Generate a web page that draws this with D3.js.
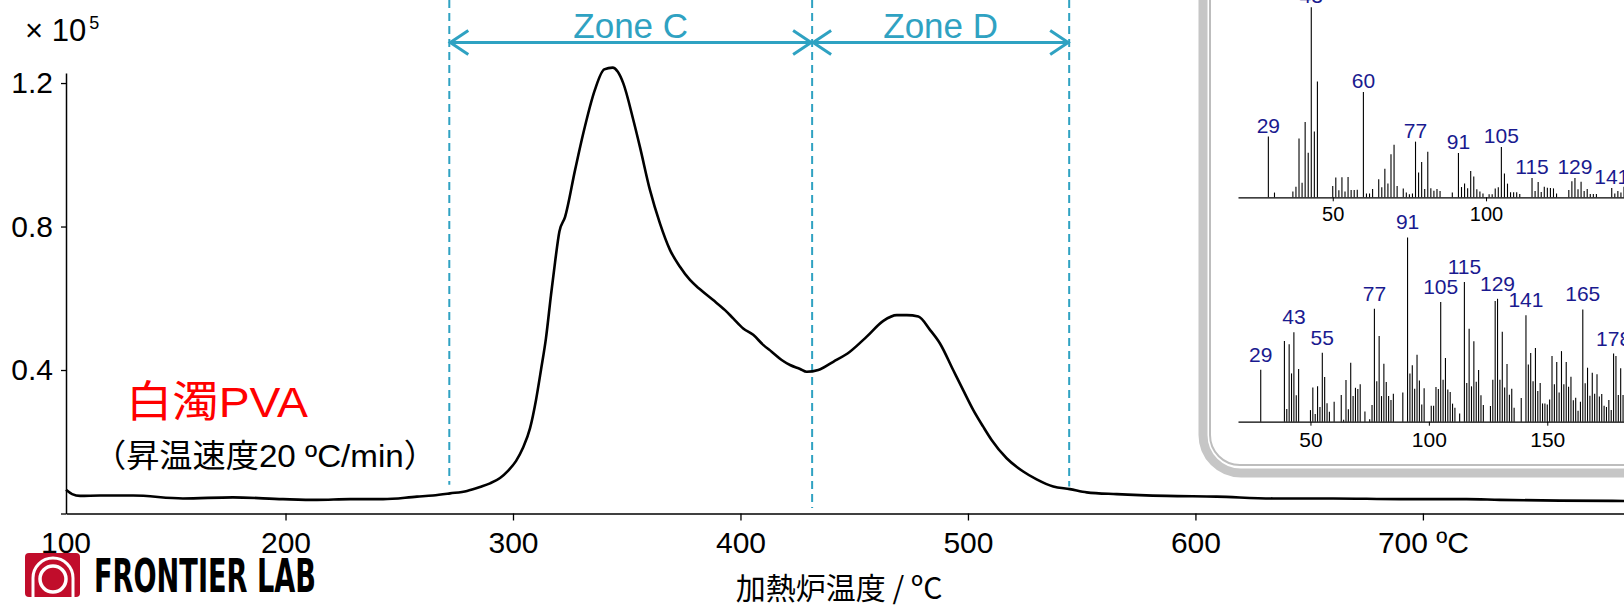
<!DOCTYPE html>
<html>
<head>
<meta charset="utf-8">
<title>白濁PVA</title>
<script src="https://d3js.org/d3.v7.min.js"></script>
<style>
  body { margin: 0; background: #fff; }
  svg text { font-family: "Liberation Sans", Arial, "Noto Sans CJK JP", sans-serif; }
  .axis .domain { stroke: #000; stroke-width: 1.5; }
  .axis line { stroke: #000; stroke-width: 1.3; }
  .axis text { font-size: 30px; fill: #000; font-family: "Liberation Sans", Arial, sans-serif; }
  .ms .domain { stroke: #000; stroke-width: 1.2; }
  .ms line { stroke: #000; stroke-width: 1; }
  .ms text { font-size: 20px; fill: #000; }
</style>
</head>
<body>
<svg id="chart" width="1624" height="606"></svg>
<script>
// thermogram: furnace temperature (degC) vs intensity (x10^5)
const temps = [103.5,106.2,109.7,118.5,133,154.9,176.9,198.9,213.8,228.4,242.9,257.8,264.8,272.3,279.8,285.5,289.9,294.3,297.8,301.3,304.4,307.5,310.1,312.3,314.5,316.7,318.5,320.4,322.9,327.3,330.9,336,340.1,343.8,346,348.5,352.9,355.8,360.2,364.6,369,373.4,377.8,382.2,388,393.2,396.8,401.2,405.6,410,413.7,418.1,421.8,426.2,429.1,434.2,440.8,448.1,455.5,462.8,468.7,473.1,478.2,483.3,487.7,493.5,497.9,502.3,506.7,510.4,517,524.3,530.2,537.5,544.8,552.2,565.4,587.3,609.3,634.2,660.5,689.9,719.2,733.8,760.2,788.4];
const intensity = [0.066,0.054,0.049,0.050,0.050,0.042,0.045,0.040,0.038,0.040,0.040,0.047,0.050,0.056,0.063,0.074,0.084,0.099,0.119,0.146,0.183,0.238,0.316,0.400,0.489,0.609,0.701,0.786,0.827,0.958,1.060,1.181,1.238,1.243,1.232,1.199,1.097,1.022,0.902,0.809,0.735,0.688,0.651,0.625,0.595,0.567,0.544,0.516,0.498,0.470,0.451,0.428,0.414,0.403,0.395,0.400,0.423,0.451,0.493,0.537,0.553,0.553,0.549,0.512,0.474,0.400,0.344,0.289,0.242,0.205,0.154,0.117,0.095,0.075,0.068,0.059,0.054,0.049,0.047,0.042,0.042,0.040,0.040,0.038,0.036,0.035];

const xTickValues = [200, 300, 400, 500, 600, 700];
const xTickLabels = ["200", "300", "400", "500", "600", "700 ºC"];
const xStartLabel = "100";
const yTickValues = [0, 0.4, 0.8, 1.2];
const yTickLabels = ["", "0.4", "0.8", "1.2"];

// zones
const zoneBounds = [272, 431.5, 544.5];
const zoneLineEnds = [0.08, 0.015, 0.075];
const zoneNames = ["Zone C", "Zone D"];

// inset mass spectra (m/z, relative abundance %)
const spec1Mz = [29,31,37,38,39,40,41,42,43,44,45,50,51,52,53,54,55,56,57,58,60,61,62,63,65,66,67,68,69,70,71,73,74,75,76,77,78,79,80,81,82,83,84,85,89,91,92,93,94,95,96,97,98,99,101,102,103,104,105,106,107,108,109,110,111,115,116,117,118,119,120,121,122,123,127,128,129,130,131,132,133,134,135,136,141,142,143,144,145];
const spec1Abund = [32,2.5,3,5.6,31,7.7,39.6,23.5,100,34.6,60.9,6,10.4,3.7,10.5,3,10.7,3.9,3.9,4,55.4,2,2,4.4,9.5,5.3,15,7.2,22.6,27.7,6,4.6,2.5,1.6,2,29.3,13,18.6,4.4,24,4.7,3.5,4.4,3.3,2.5,23.3,5.4,7.2,4.7,13.9,10.9,4.2,3,2,1.6,1.6,4.6,5.3,26.5,12.5,7.2,2.6,2.6,2.6,1.8,10.2,3.3,8,2.8,5.6,5,4.9,4.7,2,3.9,8.4,10.2,4.2,8.2,3.3,4.4,1.8,1.8,1.8,4.9,2,3.3,2.5,5.6];
const spec1Labels = [29, 43, 60, 77, 91, 105, 115, 129, 141];

const spec2Mz = [29,39,40,41,42,43,44,45,50,51,52,53,54,55,56,57,58,60,63,64,65,66,67,68,69,70,71,73,75,76,77,78,79,80,81,82,83,84,85,89,91,92,93,94,95,96,97,98,101,102,103,104,105,106,107,108,109,110,111,113,115,116,117,118,119,120,121,122,123,126,127,128,129,130,131,132,133,134,135,136,139,141,142,143,144,145,146,147,148,149,150,151,152,153,154,155,156,157,158,159,160,161,162,163,164,165,166,167,168,169,170,171,172,173,174,175,176,177,178,179,180,181,182];
const spec2Abund = [28.2,43.8,6.9,42,26.2,48.5,14.3,28.6,6.3,18.6,4.2,19.3,8,37.4,24.2,10,5.4,10.8,14.5,1,22.6,6.7,32,13.9,18.4,17.7,20.3,5.6,1.3,9,61.3,21.9,46.5,13.9,31.5,21.5,13.9,11.8,15.2,15.9,100,26.2,30.6,17.9,36.3,22.4,9.4,18.1,8.7,8.7,18.8,17.7,64.9,22.8,34.5,17.5,16.1,9.8,7.6,4.5,75.8,21,50.5,19.2,43.6,21.7,28,14.3,9,8.5,22.8,65.5,66.7,22.8,48.8,18.6,31.3,14.6,17.9,7.6,12.8,57.7,31.1,37.3,21.9,40,16.6,21,9.9,9.9,9.4,12.1,35.6,20.3,32.4,15.9,38.3,20.3,32.4,19,24.4,11.6,13,6,10.8,60.9,20.8,29.3,14.1,26.6,15.2,25.7,13.7,15,8.7,8,11.8,6.3,37,35.6,14.5,29,14.5];
const spec2Labels = [29, 43, 55, 77, 91, 105, 115, 129, 141, 165, 178];

const svg = d3.select('svg#chart');
const width = +svg.attr('width');
const height = +svg.attr('height');
const margins = {top: 73, right: 0, bottom: 92.5, left: 66};

const teal = '#2fa2c2';
const navy = '#1a1a8f';

const x = d3.scaleLinear().domain([temps[0], temps[temps.length - 1]])
            .range([margins.left, width - margins.right]);
const y = d3.scaleLinear().domain([0, 1.228])
            .range([height - margins.bottom, margins.top]);

// axes
svg.append('g').attr('class', 'x axis')
  .attr('transform', `translate(0,${height - margins.bottom})`)
  .call(d3.axisBottom(x).tickValues(xTickValues)
          .tickFormat((d, i) => xTickLabels[i])
          .tickSizeInner(7).tickSizeOuter(0).tickPadding(11));

svg.append('text')
  .attr('x', x(temps[0])).attr('y', height - margins.bottom + 18)
  .attr('dy', '0.71em').attr('text-anchor', 'middle')
  .style('font-size', '30px').text(xStartLabel);

svg.append('g').attr('class', 'y axis')
  .attr('transform', `translate(${margins.left},0)`)
  .call(d3.axisLeft(y).tickValues(yTickValues)
          .tickFormat((d, i) => yTickLabels[i])
          .tickSizeInner(5).tickSizeOuter(0).tickPadding(8));

// x10^5
const mult = svg.append('text').attr('x', 25).attr('y', 41).style('font-size', '31px');
mult.append('tspan').text('× 10');
mult.append('tspan').attr('dx', 3).attr('dy', -12).style('font-size', '18px').text('5');

// x label
svg.append('text')
  .attr('x', 839).attr('y', 599).attr('text-anchor', 'middle')
  .style('font-size', '30px')
  .style('font-family', '"Noto Sans CJK JP", "Liberation Sans", sans-serif')
  .text('加熱炉温度 / ºC');

// zone markers
zoneBounds.forEach((t, i) => {
  svg.append('line')
    .attr('x1', x(t)).attr('x2', x(t))
    .attr('y1', 0).attr('y2', y(zoneLineEnds[i]))
    .attr('stroke', teal).attr('stroke-width', 2)
    .attr('stroke-dasharray', '8,5');
});

const arrowY = 42.5;
zoneNames.forEach((name, i) => {
  const x0 = x(zoneBounds[i]), x1 = x(zoneBounds[i + 1]);
  const g = svg.append('g').attr('fill', 'none').attr('stroke', teal)
               .attr('stroke-width', 3);
  g.append('line').attr('x1', x0).attr('x2', x1).attr('y1', arrowY).attr('y2', arrowY);
  g.append('path').attr('d', `M${x0 + 19},${arrowY - 12}L${x0 + 1},${arrowY}L${x0 + 19},${arrowY + 12}`);
  g.append('path').attr('d', `M${x1 - 19},${arrowY - 12}L${x1 - 1},${arrowY}L${x1 - 19},${arrowY + 12}`);
  svg.append('text')
    .attr('x', (x0 + x1) / 2).attr('y', 38).attr('text-anchor', 'middle')
    .attr('fill', teal).style('font-size', '35px').text(name);
});

// curve
const line = d3.line().x((d, i) => x(temps[i])).y(d => y(d)).curve(d3.curveMonotoneX);
svg.append('path')
  .attr('d', line(intensity))
  .attr('fill', 'none').attr('stroke', '#000').attr('stroke-width', 2.6)
  .attr('stroke-linejoin', 'round');

// sample annotation
svg.append('text')
  .attr('x', 126).attr('y', 417).attr('fill', '#ff0000')
  .style('font-size', '43px')
  .attr('textLength', 182).attr('lengthAdjust', 'spacingAndGlyphs')
  .text('白濁PVA');
svg.append('text')
  .attr('x', 93).attr('y', 467)
  .style('font-size', '32px')
  .attr('textLength', 344).attr('lengthAdjust', 'spacingAndGlyphs')
  .text('（昇温速度20 ºC/min）');

// inset frame
svg.append('rect')
  .attr('x', 1203).attr('y', -80).attr('width', 600).attr('height', 553)
  .attr('rx', 38).attr('fill', '#fff').attr('stroke', '#c6c6c6').attr('stroke-width', 9);
svg.append('rect')
  .attr('x', 1210).attr('y', -80).attr('width', 600).attr('height', 545)
  .attr('rx', 30).attr('fill', 'none').attr('stroke', '#bdbdbd').attr('stroke-width', 2);

function drawSpectrum(mz, abund, labels, xr, baseY, topY, ticks, fontSize, labelGap) {
  const sx = d3.scaleLinear().domain(xr).range([1238, width]);
  const sy = d3.scaleLinear().domain([0, 100]).range([baseY, topY]);
  const g = svg.append('g');
  g.selectAll('line.peak').data(mz).join('line')
    .attr('class', 'peak')
    .attr('x1', d => sx(d)).attr('x2', d => sx(d))
    .attr('y1', sy(0)).attr('y2', (d, i) => sy(abund[i]))
    .attr('stroke', '#000').attr('stroke-width', 1.1);
  g.append('g').attr('class', 'ms')
    .attr('transform', `translate(0,${baseY})`)
    .call(d3.axisBottom(sx).tickValues(ticks).tickSizeInner(4).tickSizeOuter(0).tickPadding(6))
    .selectAll('text').style('font-size', fontSize + 'px');
  g.selectAll('text.lab').data(labels).join('text')
    .attr('class', 'lab')
    .attr('x', d => sx(d))
    .attr('y', d => sy(abund[mz.indexOf(d)]) - labelGap)
    .attr('text-anchor', 'middle').attr('fill', navy)
    .style('font-size', '21px').text(d => d);
}

drawSpectrum(spec1Mz, spec1Abund, spec1Labels, [19.1, 145], 197.3, 7.3, [50, 100, 150], 20, 4);
drawSpectrum(spec2Mz, spec2Abund, spec2Labels, [19.4, 182.4], 421.7, 237.4, [50, 100, 150], 21, 8);

// logo
const logo = svg.append('g');
logo.append('rect').attr('x', 25).attr('y', 553).attr('width', 55).attr('height', 44)
  .attr('rx', 4).attr('fill', '#c10d2b');
logo.append('path').attr('d', 'M33,597V578A20,20 0 0 1 73,578V597')
  .attr('fill', 'none').attr('stroke', '#fff').attr('stroke-width', 3);
logo.append('circle').attr('cx', 53).attr('cy', 579).attr('r', 13)
  .attr('fill', 'none').attr('stroke', '#fff').attr('stroke-width', 3.5);
logo.append('text').attr('x', 94).attr('y', 592)
  .style('font-family', '"DejaVu Sans Condensed", "DejaVu Sans", sans-serif')
  .style('font-weight', 'bold').style('font-size', '46px')
  .attr('textLength', 222).attr('lengthAdjust', 'spacingAndGlyphs')
  .text('FRONTIER LAB');
</script>
</body>
</html>
